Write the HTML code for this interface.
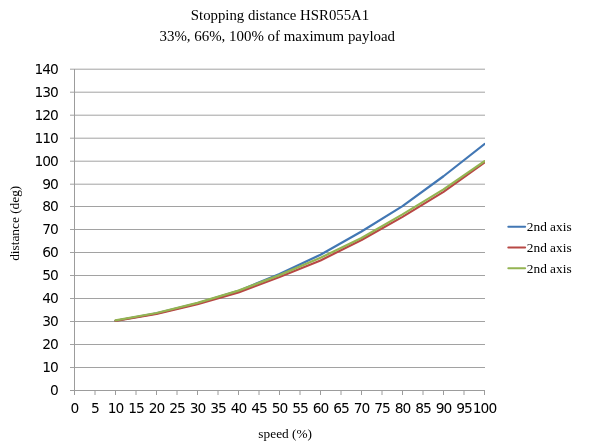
<!DOCTYPE html>
<html><head><meta charset="utf-8"><title>Stopping distance HSR055A1</title>
<style>
html,body{margin:0;padding:0;background:#fff;}
body{width:600px;height:448px;overflow:hidden;}
svg{display:block;will-change:transform;}
.t{font-family:"Liberation Serif","DejaVu Serif",serif;font-size:14px;fill:#000;}
.n{font-family:"DejaVu Sans","Liberation Sans",sans-serif;font-size:13.8px;letter-spacing:-1.0px;fill:#000;}
.a{font-family:"Liberation Serif","DejaVu Serif",serif;font-size:13.33px;fill:#000;}
.t{font-size:14.67px;}
</style></head><body>
<svg width="600" height="448" viewBox="0 0 600 448">

<g stroke="#a2a2a2" stroke-width="1">
<line x1="70.00" y1="367.50" x2="485.00" y2="367.50"/>
<line x1="70.00" y1="344.50" x2="485.00" y2="344.50"/>
<line x1="70.00" y1="321.50" x2="485.00" y2="321.50"/>
<line x1="70.00" y1="298.50" x2="485.00" y2="298.50"/>
<line x1="70.00" y1="275.50" x2="485.00" y2="275.50"/>
<line x1="70.00" y1="252.50" x2="485.00" y2="252.50"/>
<line x1="70.00" y1="229.50" x2="485.00" y2="229.50"/>
<line x1="70.00" y1="206.50" x2="485.00" y2="206.50"/>
<line x1="70.00" y1="184.20" x2="485.00" y2="184.20"/>
<line x1="70.00" y1="161.20" x2="485.00" y2="161.20"/>
<line x1="70.00" y1="138.20" x2="485.00" y2="138.20"/>
<line x1="70.00" y1="115.20" x2="485.00" y2="115.20"/>
<line x1="70.00" y1="92.20" x2="485.00" y2="92.20"/>
<line x1="70.00" y1="69.20" x2="485.00" y2="69.20"/>
</g>
<g stroke="#9c9c9c" stroke-width="1">
<line x1="74.50" y1="69" x2="74.50" y2="391.00"/>
<line x1="70.00" y1="390.50" x2="485.00" y2="390.50"/>
<line x1="74.50" y1="390.50" x2="74.50" y2="395.00"/>
<line x1="95.00" y1="390.50" x2="95.00" y2="395.00"/>
<line x1="115.50" y1="390.50" x2="115.50" y2="395.00"/>
<line x1="136.00" y1="390.50" x2="136.00" y2="395.00"/>
<line x1="156.50" y1="390.50" x2="156.50" y2="395.00"/>
<line x1="177.00" y1="390.50" x2="177.00" y2="395.00"/>
<line x1="197.50" y1="390.50" x2="197.50" y2="395.00"/>
<line x1="218.00" y1="390.50" x2="218.00" y2="395.00"/>
<line x1="238.50" y1="390.50" x2="238.50" y2="395.00"/>
<line x1="259.00" y1="390.50" x2="259.00" y2="395.00"/>
<line x1="279.50" y1="390.50" x2="279.50" y2="395.00"/>
<line x1="300.00" y1="390.50" x2="300.00" y2="395.00"/>
<line x1="320.50" y1="390.50" x2="320.50" y2="395.00"/>
<line x1="341.00" y1="390.50" x2="341.00" y2="395.00"/>
<line x1="361.50" y1="390.50" x2="361.50" y2="395.00"/>
<line x1="382.00" y1="390.50" x2="382.00" y2="395.00"/>
<line x1="402.50" y1="390.50" x2="402.50" y2="395.00"/>
<line x1="423.00" y1="390.50" x2="423.00" y2="395.00"/>
<line x1="443.50" y1="390.50" x2="443.50" y2="395.00"/>
<line x1="464.00" y1="390.50" x2="464.00" y2="395.00"/>
<line x1="484.50" y1="390.50" x2="484.50" y2="395.00"/>
</g>
<defs><clipPath id="pc"><rect x="74" y="60" width="411" height="335"/></clipPath></defs>
<polyline points="115.50,320.76 156.50,313.42 197.50,303.33 238.50,290.90 279.50,273.97 320.50,254.70 361.50,231.53 402.50,206.07 443.50,176.25 484.50,144.02" fill="none" stroke="#4277b4" stroke-width="2.2" stroke-linecap="round" stroke-linejoin="round" clip-path="url(#pc)"/>
<polyline points="115.50,320.88 156.50,313.88 197.50,304.25 238.50,292.55 279.50,277.07 320.50,260.43 361.50,240.02 402.50,216.85 443.50,191.85 484.50,162.48" fill="none" stroke="#b84845" stroke-width="2.2" stroke-linecap="round" stroke-linejoin="round" clip-path="url(#pc)"/>
<polyline points="115.50,320.31 156.50,312.97 197.50,302.87 238.50,290.60 279.50,275.12 320.50,257.80 361.50,237.95 402.50,214.33 443.50,189.32 484.50,161.20" fill="none" stroke="#94b452" stroke-width="2.2" stroke-linecap="round" stroke-linejoin="round" clip-path="url(#pc)"/>
<g class="n" text-anchor="end">
<text x="57.9" y="395.20">0</text>
<text x="57.9" y="372.20">10</text>
<text x="57.9" y="349.20">20</text>
<text x="57.9" y="326.20">30</text>
<text x="57.9" y="303.20">40</text>
<text x="57.9" y="280.20">50</text>
<text x="57.9" y="257.20">60</text>
<text x="57.9" y="234.20">70</text>
<text x="57.9" y="211.20">80</text>
<text x="57.9" y="188.90">90</text>
<text x="57.9" y="165.90">100</text>
<text x="57.9" y="142.90">110</text>
<text x="57.9" y="119.90">120</text>
<text x="57.9" y="96.90">130</text>
<text x="57.9" y="73.90">140</text>
</g>
<g class="n" text-anchor="middle">
<text x="74.50" y="412.7">0</text>
<text x="95.00" y="412.7">5</text>
<text x="115.50" y="412.7">10</text>
<text x="136.00" y="412.7">15</text>
<text x="156.50" y="412.7">20</text>
<text x="177.00" y="412.7">25</text>
<text x="197.50" y="412.7">30</text>
<text x="218.00" y="412.7">35</text>
<text x="238.50" y="412.7">40</text>
<text x="259.00" y="412.7">45</text>
<text x="279.50" y="412.7">50</text>
<text x="300.00" y="412.7">55</text>
<text x="320.50" y="412.7">60</text>
<text x="341.00" y="412.7">65</text>
<text x="361.50" y="412.7">70</text>
<text x="382.00" y="412.7">75</text>
<text x="402.50" y="412.7">80</text>
<text x="423.00" y="412.7">85</text>
<text x="443.50" y="412.7">90</text>
<text x="464.00" y="412.7">95</text>
<text x="484.50" y="412.7">100</text>
</g>
<text class="t" x="280" y="19.7" text-anchor="middle" style="font-size:14.8px">Stopping distance HSR055A1</text>
<text class="t" x="277.3" y="40.8" text-anchor="middle" style="font-size:14.92px">33%, 66%, 100% of maximum payload</text>
<text class="a" x="285.2" y="438.15" text-anchor="middle">speed (%)</text>
<text class="a" transform="translate(19,223.3) rotate(-90)" text-anchor="middle">distance (deg)</text>
<line x1="508.3" y1="226.7" x2="525.1" y2="226.7" stroke="#4277b4" stroke-width="2.0" stroke-linecap="round"/>
<text class="a" x="526.8" y="231.00">2nd axis</text>
<line x1="508.3" y1="247.5" x2="525.1" y2="247.5" stroke="#b84845" stroke-width="2.0" stroke-linecap="round"/>
<text class="a" x="526.8" y="251.80">2nd axis</text>
<line x1="508.3" y1="268.3" x2="525.1" y2="268.3" stroke="#94b452" stroke-width="2.0" stroke-linecap="round"/>
<text class="a" x="526.8" y="272.60">2nd axis</text>
</svg>
</body></html>
